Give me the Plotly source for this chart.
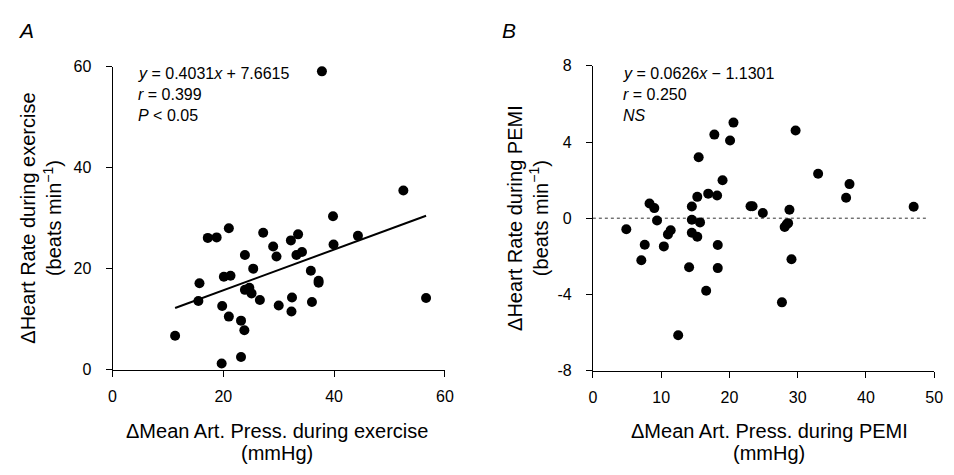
import plotly.graph_objects as go

W, H = 954, 475

# Panel A data: ΔMAP during exercise (mmHg) vs ΔHR during exercise (beats/min)
a_x = [37.8, 39.8, 44.3, 39.9, 21.0, 17.2, 18.8, 27.2, 29.0, 29.6, 32.2, 33.5, 33.2, 34.2,
       23.9, 25.4, 35.8, 37.2, 37.2, 20.1, 21.3, 15.7, 23.9, 24.7, 25.1, 15.5, 26.6, 30.0,
       32.4, 32.3, 36.0, 56.6, 19.8, 21.0, 23.2, 23.8, 11.3, 23.2, 19.7, 52.5]
a_y = [59.1, 30.4, 26.5, 24.8, 28.0, 26.1, 26.2, 27.1, 24.4, 22.4, 25.6, 26.8, 22.7, 23.3,
       22.7, 20.0, 19.6, 17.6, 17.2, 18.4, 18.6, 17.1, 15.8, 16.2, 15.1, 13.6, 13.8, 12.7,
       14.3, 11.5, 13.4, 14.2, 12.6, 10.5, 9.7, 7.8, 6.7, 2.5, 1.2, 35.5]
a_slope, a_icpt = 0.4031, 7.6615

# Panel B data: ΔMAP during PEMI (mmHg) vs ΔHR during PEMI (beats/min)
b_x = [4.9, 7.6, 7.1, 8.3, 9.0, 9.4, 10.4, 11.0, 11.4, 14.1, 14.5, 14.5, 15.3, 15.5, 15.7,
       14.5, 15.3, 16.6, 16.9, 18.2, 17.8, 18.3, 18.3, 19.0, 20.1, 20.6, 23.1, 23.4, 24.9,
       28.1, 28.4, 28.6, 28.8, 29.1, 29.7, 33.0, 37.1, 37.6, 12.5, 27.7, 47.0]
b_y = [-0.58, -1.39, -2.21, 0.77, 0.53, -0.12, -1.48, -0.85, -0.63, -2.58, 0.61, -0.08, 1.12,
       3.2, -0.22, -0.76, -0.97, -3.81, 1.29, 1.19, 4.39, -1.41, -2.62, 1.99, 4.08, 5.02,
       0.63, 0.63, 0.27, -0.46, -0.32, -0.26, 0.44, -2.16, 4.61, 2.33, 1.07, 1.79, -6.15,
       -4.42, 0.6]
b_ref_x = [0, 49]
b_ref_y = [0, 0]

a_xticks = [0, 20, 40, 60]
a_yticks = [0, 20, 40, 60]
b_xticks = [0, 10, 20, 30, 40, 50]
b_yticks = [-8, -4, 0, 4, 8]
b_yticktext = ["-8", "-4", "0", "4", "8"]

FONT = "Liberation Sans, Arial, sans-serif"

fig = go.Figure()
mk = dict(color="black", size=10)
fig.add_trace(go.Scatter(x=a_x, y=a_y, mode="markers", marker=mk, xaxis="x", yaxis="y",
                         cliponaxis=False, showlegend=False))
lx = [min(a_x), max(a_x)]
fig.add_trace(go.Scatter(x=lx, y=[a_slope * v + a_icpt for v in lx], mode="lines",
                         line=dict(color="black", width=2), xaxis="x", yaxis="y", showlegend=False))
fig.add_trace(go.Scatter(x=b_ref_x, y=b_ref_y, mode="lines",
                         line=dict(color="#333333", width=1, dash="3px,3px"), xaxis="x2", yaxis="y2",
                         showlegend=False))
fig.add_trace(go.Scatter(x=b_x, y=b_y, mode="markers", marker=mk, xaxis="x2", yaxis="y2",
                         cliponaxis=False, showlegend=False))

def px(x):
    return x / W

def py(y):
    return 1 - y / H

axcommon = dict(showgrid=False, zeroline=False, showline=True, linecolor="black", linewidth=1,
                ticks="outside", ticklen=6, tickcolor="black",
                tickfont=dict(family=FONT, size=16, color="black"))

fig.update_layout(
    width=W, height=H, margin=dict(l=0, r=0, t=0, b=0),
    plot_bgcolor="white", paper_bgcolor="white",
    font=dict(family=FONT, color="black"),
    xaxis=dict(domain=[px(110), px(447)], range=[0, 60], tickvals=a_xticks, anchor="y",
               ticklabelstandoff=6, **axcommon),
    yaxis=dict(domain=[py(375), py(61)], range=[0, 60], tickvals=a_yticks, anchor="x",
               ticklabelstandoff=11, **axcommon),
    xaxis2=dict(domain=[px(597), px(943)], range=[0, 50], tickvals=b_xticks, anchor="y2",
                ticklabelstandoff=6, **axcommon),
    yaxis2=dict(domain=[py(376), py(60)], range=[-8, 8], tickvals=b_yticks, ticktext=b_yticktext,
                anchor="x2", ticklabelstandoff=11, **axcommon),
)

ann = []
def t(x, y, text, size=16, angle=0, xanchor="left"):
    ann.append(dict(x=px(x), y=py(y), xref="paper", yref="paper", text=text, showarrow=False,
                    xanchor=xanchor, yanchor="middle", textangle=angle,
                    font=dict(family=FONT, size=size, color="black")))

t(12, 23, "<i>A</i>", size=21)
t(503, 23, "<i>B</i>", size=21)

t(134, 68, "<i>y</i> = 0.4031<i>x</i> + 7.6615")
t(134, 90, "<i>r</i> = 0.399")
t(134, 112, "<i>P</i> < 0.05")
t(626, 68, "<i>y</i> = 0.0626<i>x</i> − 1.1301")
t(626, 90, "<i>r</i> = 0.250")
t(626, 112, "<i>NS</i>")

t(38, 218, "ΔHeart Rate during exercise<br>(beats min<sup>−1</sup>)", size=20, angle=-90, xanchor="center")
t(531, 218, "ΔHeart Rate during PEMI<br>(beats min<sup>−1</sup>)", size=20, angle=-90, xanchor="center")
t(277, 439, "ΔMean Art. Press. during exercise", size=20, xanchor="center")
t(277, 462, "(mmHg)", size=20, xanchor="center")
t(776, 439, "ΔMean Art. Press. during PEMI", size=20, xanchor="center")
t(776, 462, "(mmHg)", size=20, xanchor="center")

fig.update_layout(annotations=ann)
fig.write_html("out.html")
